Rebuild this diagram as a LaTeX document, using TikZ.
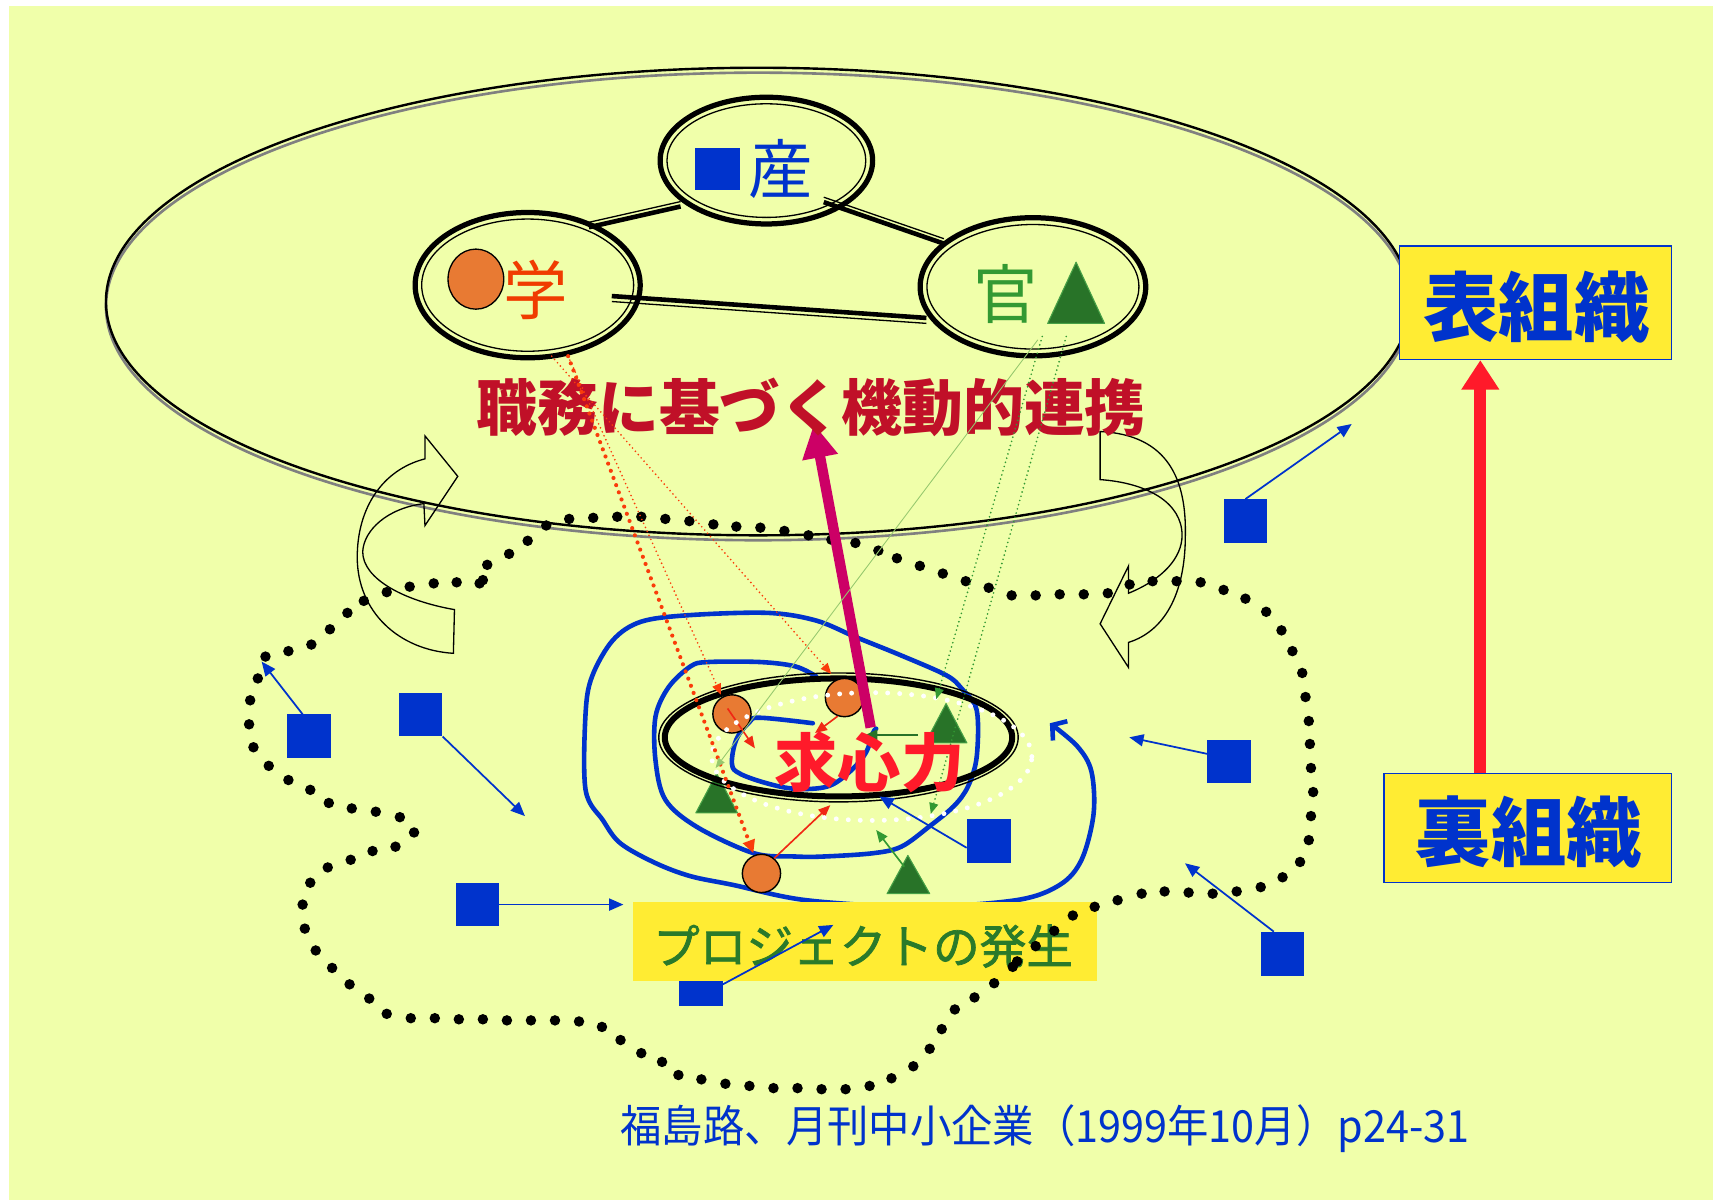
\documentclass[tikz,border=0pt]{standalone}
\usepackage{fontspec}
\usepackage{graphicx}
\newfontfamily\jp{Noto Sans CJK JP}
\newfontfamily\jpmed{Noto Sans CJK JP}[FakeBold=1.6]
\usetikzlibrary{arrows.meta,shapes.geometric,calc}
\definecolor{bg}{RGB}{240,255,170}
\definecolor{myblue}{RGB}{0,51,204}
\definecolor{boxy}{RGB}{255,236,51}
\definecolor{orng}{RGB}{232,122,51}
\definecolor{gakured}{RGB}{240,60,0}
\definecolor{kangreen}{RGB}{51,153,51}
\definecolor{trig}{RGB}{40,115,40}
\definecolor{trige}{RGB}{70,160,70}
\definecolor{magent}{RGB}{204,0,102}
\definecolor{bigred}{RGB}{255,26,42}
\definecolor{titred}{RGB}{192,16,40}
\definecolor{dotred}{RGB}{250,60,10}
\definecolor{arrred}{RGB}{240,40,20}
\definecolor{pgreen}{RGB}{42,122,42}
\definecolor{lgreen}{RGB}{150,200,110}
\tikzset{
  bsq/.style={rectangle, fill=myblue, minimum size=40pt, inner sep=0pt},
  orc/.style={circle, fill=orng, draw=black, line width=1.3pt, minimum size=35pt, inner sep=0pt},
  thinarr/.style={myblue, line width=1.6pt, -{Triangle[length=13pt,width=11pt]}},
  redarr/.style={arrred, line width=1.5pt, -{Triangle[length=11pt,width=9pt]}},
  grnarr/.style={kangreen, line width=1.5pt, -{Triangle[length=11pt,width=9pt]}},
  dblring/.style={ellipse, draw=black, line width=4.8pt, inner sep=0pt},
  orgbox/.style={rectangle, fill=boxy, draw=myblue, line width=1.3pt, inner sep=0pt},
  spiral/.style={myblue, line width=4.2pt, line cap=round, line join=round},
  uarrow/.style={draw=black, line width=1.2pt, line join=miter},
  gtri/.style={fill=trig, draw=trige, line width=1pt, line join=round},
  lbl/.style={inner sep=0pt}
}
\begin{document}
\begin{tikzpicture}[x=1pt,y=-1pt]
\useasboundingbox (0,0) rectangle (1568,1098);
\fill[white] (0,0) rectangle (1568,1098);
\fill[bg] (8,5.5) rectangle (1568,1098);

% ---- outer ellipse (surface organisation)
\draw[gray, line width=2.4pt] (694,280.5) ellipse[x radius=597pt, y radius=214pt];
\node[ellipse, draw=black, line width=2.2pt, minimum width=1194pt, minimum height=428pt, inner sep=0pt] (outer) at (694,276) {};

% ---- industry / academia / government rings
\node[dblring, minimum width=194.5pt, minimum height=116pt] (san) at (701.5,147) {};
\draw[line width=1.2pt] (san.center) ellipse[x radius=91pt, y radius=52pt];
\node[dblring, minimum width=206pt, minimum height=133pt] (gaku) at (483,261) {};
\draw[line width=1.2pt] (gaku.center) ellipse[x radius=97pt, y radius=60.5pt];
\node[dblring, minimum width=206.5pt, minimum height=126.5pt] (kan) at (945.5,262.5) {};
\draw[line width=1.2pt] (kan.center) ellipse[x radius=97pt, y radius=57pt];

\coordinate (gs1) at (539,208); \coordinate (gs2) at (623,189);
\coordinate (sk1) at (754,185); \coordinate (sk2) at (864,223);
\coordinate (gk1) at (560,271); \coordinate (gk2) at (848,291);
\draw[line width=4.2pt] (gs1) -- (gs2);
\draw[line width=1.2pt] ([yshift=4.5pt]gs1) -- ([yshift=4.5pt]gs2);
\draw[line width=4.2pt] (sk1) -- (sk2);
\draw[line width=1.2pt] ([yshift=4.5pt]sk1) -- ([yshift=4.5pt]sk2);
\draw[line width=4.2pt] (gk1) -- (gk2);
\draw[line width=1.2pt] ([yshift=-5pt]gk1) -- ([yshift=-5pt]gk2);

\node[bsq, minimum width=41pt, minimum height=38.5pt] (sansq) at (656.5,154.75) {};
\node[lbl, text=myblue, font={\jp\fontsize{59}{59}\selectfont}] (sanlbl) at (715,155) {産};
\node[ellipse, fill=orng, draw=black, line width=1.2pt, minimum width=51pt, minimum height=55pt, inner sep=0pt] (gakucirc) at (435.6,255.5) {};
\node[lbl, text=gakured, font={\jp\fontsize{59}{59}\selectfont}] (gakulbl) at (490,265) {学};
\node[lbl, text=kangreen, font={\jp\fontsize{59}{59}\selectfont}] (kanlbl) at (921,269) {官};
\filldraw[gtri] (959,296) -- (985,240) -- (1011,296) -- cycle;

% ---- U-turn arrows
\draw[uarrow] (389,420) .. controls (350,430) and (327,465) .. (327,510)
  .. controls (327,560) and (365,595) .. (415,598) -- (416,558)
  .. controls (370,550) and (332,530) .. (332,505)
  .. controls (333,485) and (355,465) .. (388,461)
  -- (389,481) -- (419,436) -- (389,399) -- cycle;
\draw[uarrow] (1007,395) .. controls (1070,398) and (1086,440) .. (1085,490)
  .. controls (1085,545) and (1065,578) .. (1033,588) -- (1033,611) -- (1007,571)
  -- (1033,518) -- (1033,543)
  .. controls (1065,530) and (1082,510) .. (1082,490)
  .. controls (1082,460) and (1050,442) .. (1007,439) -- cycle;

% ---- blue spiral
\draw[spiral] plot[smooth, tension=0.6] coordinates {(744,662) (696,657) (686,661) (674,677) (670,699) (677,708) (702,717) (728,722) (757,720) (776,708) (792,690) (799,671) (802,667)};
\draw[spiral, -{Straight Barb[length=9pt,width=22pt]}] plot[smooth, tension=0.55] coordinates {(747,619) (728,610) (696,606) (648,606) (632,610) (612,629) (600,656) (600,696) (609,732) (638,757) (690,781) (728,784) (754,784) (799,781) (825,775) (850,757) (873,738) (886,720) (894,693) (894,650) (880,630) (866,618) (825,600) (783,583) (747,568) (703,561) (632,563) (587,569) (561,586) (542,619) (536,653) (536,723) (552,751) (568,772) (600,790) (632,802) (671,810) (738,824) (840,830) (930,824) (970,810) (990,787) (1001,745) (999,706) (986,683) (961,662)};

% ---- centripetal core
\filldraw[gtri] (637,744) -- (656,708) -- (675,744) -- cycle;
\draw[line width=1.3pt] (767.5,675) ellipse[x radius=164.5pt, y radius=59pt];
\node[ellipse, draw=black, line width=5.5pt, minimum width=318pt, minimum height=108pt, inner sep=0pt] (kyu) at (767.5,675) {};
\node[orc] (c1) at (670,653.5) {};
\node[orc] (c2) at (773,638.5) {};
\node[orc] (c3) at (697,799.5) {};
\filldraw[gtri] (847,680) -- (866,644) -- (885,680) -- cycle;
\filldraw[gtri] (812,818) -- (831,783) -- (851,818) -- cycle;
\coordinate (t1a) at (840.5,672.8); \coordinate (t1b) at (792,672.8);
\coordinate (t3a) at (827.7,793.3); \coordinate (t3b) at (802,759.7);
\draw[trig, line width=1.6pt, -{Triangle[length=11pt,width=10pt]}] (t1a) -- (t1b);
\draw[grnarr] (t3a) -- (t3b);
\coordinate (r1b) at (691,685); \coordinate (r2b) at (746,671); \coordinate (r3b) at (760,737);
\draw[redarr] ([xshift=-4pt,yshift=5pt]c1.center) -- (r1b);
\draw[redarr] (c2.250) -- (r2b);
\draw[redarr] (c3.50) -- (r3b);
\draw[white, line width=4.5pt, dash pattern=on 0pt off 11pt, line cap=round] (798,692.5) ellipse[x radius=146.5pt, y radius=58.5pt];

% ---- blue squares (members)
\node[bsq] (sq1) at (283,674) {};
\node[bsq] (sq2) at (385,654) {};
\node[bsq] (sq3) at (437,828) {};
\node[bsq] (sq5) at (905,770) {};
\node[bsq] (sq6) at (1125,697) {};
\node[bsq] (sq7) at (1174,873) {};
\node[bsq] (sq8) at (1140,477) {};
\coordinate (a1) at (239.5,605.6);
\coordinate (a2) at (480.5,747);
\coordinate (a3) at (570.6,828);
\coordinate (a5) at (805,729);
\coordinate (a6) at (1033.7,674.9);
\coordinate (a7) at (1084.7,790.2);
\coordinate (a8) at (1237.3,388.1);
\draw[thinarr] ([xshift=-6pt]sq1.north) -- (a1);
\draw[thinarr] (sq2.south east) -- (a2);
\draw[thinarr] (sq3.east) -- (a3);
\draw[thinarr] ([yshift=-6pt]sq5.west) -- (a5);
\draw[thinarr] ([yshift=7pt]sq6.west) -- (a6);
\draw[thinarr] ([xshift=-8pt]sq7.north) -- (a7);
\draw[thinarr] (sq8.north) -- (a8);

% ---- project box
\node[bsq] (sq4) at (641.5,901) {};
\node[rectangle, fill=boxy, minimum width=425pt, minimum height=72pt, inner sep=0pt] (proj) at (791.5,862) {};
\node[lbl, text=pgreen, font={\jpmed\fontsize{42.7}{43}\selectfont}] (projlbl) at (790,866) {プロジェクトの発生};
\coordinate (a4) at (762.8,846.6);
\draw[thinarr] (sq4.east) -- (a4);

% ---- dotted boundary of the informal organisation
\foreach \x/\y in {446/517, 466/507, 483/495, 500/481, 521/475, 543/474, 565/473, 587/473, 609/475, 631/477, 653/480, 674/482, 696/483, 718/486, 740/490, 761/494, 783/497, 804/504, 821/511, 842/518, 863/525, 884/532, 905/538, 926/545, 948/545, 970/544, 992/544, 1014/543, 1034/535, 1055/532, 1077/532, 1099/533, 1120/540, 1140/548, 1159/560, 1173/577, 1183/596, 1192/616, 1195/638, 1198/660, 1199/681, 1200/703, 1202/725, 1200/747, 1198/769, 1190/789, 1174/803, 1154/812, 1132/816, 1110/818, 1088/817, 1066/816, 1045/818, 1023/824, 1002/830, 982/838, 965/852, 948/866, 931/880, 927/885, 910/900, 892/913, 874/924, 862/942, 851/960, 836/976, 816/987, 796/994, 774/997, 752/997, 730/996, 708/996, 686/994, 664/992, 642/988, 621/984, 606/972, 587/964, 568/952, 551/940, 530/935, 508/934, 486/934, 464/934, 442/933, 420/933, 398/932, 376/932, 354/928, 338/914, 320/901, 304/886, 289/870, 279/850, 277/828, 284/808, 300/794, 321/787, 341/779, 362/775, 379/762, 366/748, 344/743, 322/740, 301/735, 284/723, 264/714, 246/701, 232/684, 228/663, 229/641, 236/621, 243/601, 264/596, 285/590, 302/576, 318/561, 333/550, 354/542, 375/537, 397/534, 418/533, 439/534, 442/531}
  \fill (\x,\y) circle[radius=4.8pt];

% ---- centripetal force arrow
\coordinate (mg1) at (797,666); \coordinate (mg2) at (745,388);
\draw[magent, line width=9.5pt, -{Triangle[length=31pt,width=31pt]}] (mg1) -- (mg2);

\node[lbl, text=titred, font={\jp\bfseries\fontsize{55.7}{56}\selectfont}] (title) at (742.5,372.5) {職務に基づく機動的連携};

% ---- dotted links from the formal nodes
\coordinate (gd1) at (520,326); \coordinate (gd2) at (505,326);
\coordinate (kd1) at (954,308); \coordinate (kd2) at (976,308); \coordinate (kd3) at (950,311);
\coordinate (rd1) at (689.6,781); \coordinate (rd2) at (660,636); \coordinate (rd3) at (761,617);
\coordinate (gd1e) at (857,640); \coordinate (gd2e) at (852,745); \coordinate (gd3e) at (655,703);
\draw[dotred, line width=3.8pt, dash pattern=on 0pt off 7pt, line cap=round, -{Triangle[length=12pt,width=11pt]}] (gd1) -- (rd1);
\draw[dotred, line width=1.7pt, dash pattern=on 0pt off 4pt, line cap=round, -{Triangle[length=10pt,width=8pt]}] (gd1) -- (rd2);
\draw[dotred, line width=1.7pt, dash pattern=on 0pt off 4pt, line cap=round, -{Triangle[length=10pt,width=8pt]}] (gd2) -- (rd3);
\draw[kangreen, line width=1.7pt, dash pattern=on 0pt off 4pt, line cap=round, -{Triangle[length=10pt,width=8pt]}] (kd1) -- (gd1e);
\draw[kangreen, line width=1.7pt, dash pattern=on 0pt off 4pt, line cap=round, -{Triangle[length=10pt,width=8pt]}] (kd2) -- (gd2e);
\draw[lgreen, line width=0.8pt, -{Triangle[length=9pt,width=7pt]}] (kd3) -- (gd3e);

\node[lbl, text=bigred, font={\jp\bfseries\fontsize{58}{58}\selectfont}] (kyulbl) at (796,698) {求心力};

% ---- formal / informal organisation boxes
\node[orgbox, minimum width=249pt, minimum height=104pt] (omote) at (1405.5,277) {};
\node[lbl, text=myblue, font={\jp\bfseries\fontsize{69}{69}\selectfont}] (omotelbl) at (1406.5,281) {表組織};
\node[orgbox, minimum width=263pt, minimum height=100pt] (ura) at (1398.5,758) {};
\node[lbl, text=myblue, font={\jp\bfseries\fontsize{69}{69}\selectfont}] (uralbl) at (1399.5,762) {裏組織};
\coordinate (redx) at (1355,0);
\draw[bigred, line width=11pt, -{Triangle[length=27pt,width=33pt]}] (ura.north -| redx) -- (omote.south -| redx);

% ---- source
\node[lbl, text=myblue, font={\jp\fontsize{40.5}{41}\selectfont}] (src) at (956.5,1033.5) {\scalebox{0.935}[1]{福島路、月刊中小企業（1999年10月）p24-31}};
\end{tikzpicture}
\end{document}
